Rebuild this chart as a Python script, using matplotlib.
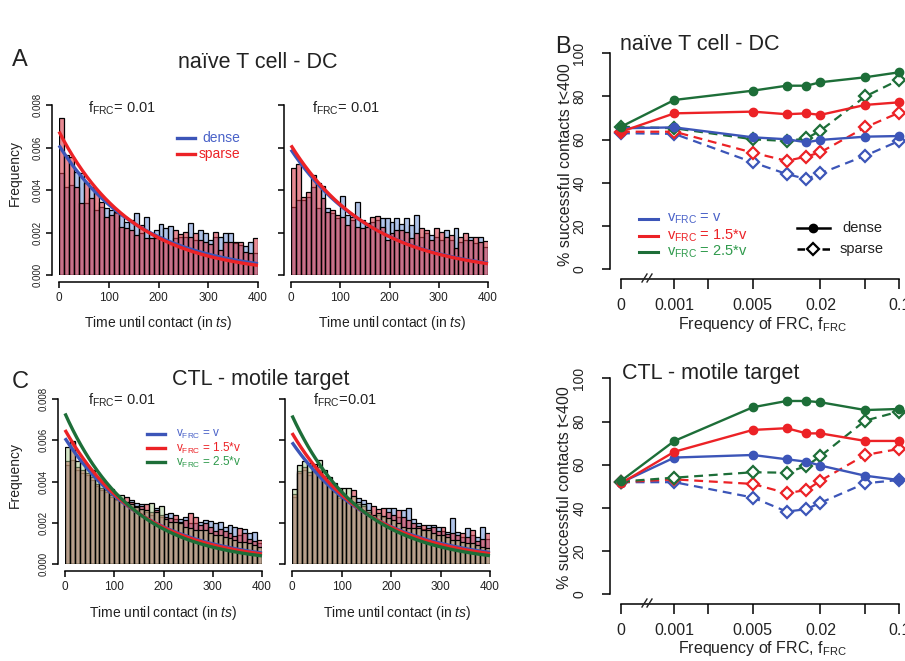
import numpy as np
import matplotlib
matplotlib.use('Agg')
import matplotlib.pyplot as plt
from matplotlib.lines import Line2D
from matplotlib.colors import to_rgba

plt.rcParams['font.family'] = ['Liberation Sans', 'DejaVu Sans']
plt.rcParams['mathtext.fontset'] = 'custom'
plt.rcParams['mathtext.rm'] = 'Liberation Sans'
plt.rcParams['mathtext.it'] = 'Liberation Sans:italic'
plt.rcParams['axes.linewidth'] = 1.1

# ---------------- data ----------------
bin_left = np.arange(0, 400, 10)

# A: naive T cell - DC, two repeats (left / right)
a1_dense = [.00478,.00416,.00424,.00486,.00482,.00340,.00416,.00306,.00322,.00314,.00306,.00290,.00282,.00251,.00259,.00293,.00196,.00275,.00196,.00212,
            .00240,.00220,.00231,.00173,.00180,.00180,.00243,.00165,.00212,.00196,.00165,.00180,.00180,.00196,.00196,.00149,.00141,.00138,.00157,.00102]
a1_sparse = [.00737,.00565,.00557,.00416,.00340,.00431,.00361,.00392,.00345,.00275,.00282,.00298,.00227,.00220,.00212,.00188,.00235,.00173,.00173,.00173,
             .00180,.00165,.00157,.00212,.00193,.00204,.00180,.00196,.00165,.00157,.00146,.00204,.00118,.00157,.00154,.00157,.00154,.00110,.00102,.00173]
a2_dense = [.00322,.00353,.00353,.00369,.00416,.00314,.00419,.00314,.00290,.00267,.00372,.00282,.00259,.00345,.00259,.00246,.00251,.00259,.00267,.00267,
            .00251,.00267,.00240,.00267,.00235,.00282,.00180,.00196,.00188,.00180,.00165,.00212,.00165,.00220,.00157,.00165,.00180,.00149,.00180,.00133]
a2_sparse = [.00502,.00522,.00369,.00392,.00471,.00435,.00361,.00298,.00306,.00282,.00275,.00235,.00275,.00227,.00220,.00227,.00275,.00278,.00227,.00165,
             .00196,.00212,.00212,.00204,.00173,.00196,.00220,.00212,.00165,.00220,.00204,.00180,.00188,.00125,.00180,.00200,.00165,.00180,.00157,.00161]
a1_rate = {'dense': 0.0061, 'sparse': 0.00675}
a2_rate = {'dense': 0.0059, 'sparse': 0.0061}

# C: CTL - motile target (v, 1.5v, 2.5v)
c1_v = [.00481,.00505,.00457,.00440,.00432,.00408,.00376,.00360,.00351,.00327,.00311,.00303,.00295,.00311,.00295,.00291,.00254,.00238,.00270,.00230,
        .00243,.00249,.00220,.00217,.00230,.00200,.00200,.00206,.00214,.00209,.00198,.00206,.00181,.00189,.00181,.00140,.00168,.00149,.00157,.00100]
c1_v15 = [.00500,.00590,.00470,.00455,.00440,.00420,.00390,.00370,.00360,.00335,.00315,.00310,.00327,.00300,.00282,.00280,.00291,.00250,.00262,.00240,
          .00230,.00225,.00238,.00205,.00215,.00246,.00230,.00190,.00200,.00180,.00160,.00170,.00160,.00150,.00135,.00173,.00150,.00120,.00110,.00117]
c1_v25 = [.00567,.00598,.00497,.00489,.00470,.00457,.00424,.00400,.00384,.00363,.00335,.00335,.00300,.00290,.00275,.00265,.00262,.00295,.00250,.00282,
          .00217,.00206,.00206,.00198,.00181,.00173,.00165,.00165,.00165,.00149,.00141,.00141,.00133,.00125,.00117,.00109,.00109,.00100,.00092,.00084]
c2_v = [.00327,.00440,.00457,.00432,.00449,.00457,.00416,.00384,.00351,.00319,.00311,.00303,.00303,.00319,.00311,.00295,.00230,.00238,.00230,.00270,
        .00270,.00230,.00262,.00270,.00217,.00198,.00170,.00189,.00189,.00181,.00160,.00157,.00222,.00157,.00130,.00173,.00140,.00133,.00181,.00120]
c2_v15 = [.00340,.00450,.00470,.00445,.00460,.00470,.00425,.00395,.00360,.00330,.00330,.00320,.00360,.00290,.00280,.00250,.00279,.00266,.00270,.00250,
          .00240,.00262,.00230,.00215,.00200,.00185,.00189,.00175,.00180,.00160,.00181,.00145,.00150,.00140,.00149,.00130,.00165,.00110,.00120,.00149]
c2_v25 = [.00363,.00481,.00497,.00489,.00486,.00505,.00457,.00424,.00392,.00368,.00368,.00368,.00330,.00300,.00290,.00260,.00240,.00245,.00235,.00222,
          .00214,.00198,.00181,.00173,.00173,.00173,.00165,.00165,.00149,.00141,.00141,.00133,.00117,.00117,.00109,.00100,.00104,.00092,.00084,.00076]
c1_rate = [0.0061, 0.0065, 0.0073]
c2_rate = [0.0059, 0.00635, 0.0072]

# B: % successful contacts vs f_FRC
f_frc = [0, 0.001, 0.005, 0.01, 0.015, 0.02, 0.05, 0.1]
f_ticks = [0, 0.001, 0.002, 0.005, 0.02, 0.05, 0.1]
f_ticklabels = ['0', '0.001', '', '0.005', '0.02', '', '0.1']
b1_dense = {'v':   [65.3, 65.7, 61.1, 60.2, 58.8, 59.9, 61.4, 61.7],
            '1.5v': [63.7, 72.2, 73.0, 71.8, 72.2, 71.5, 76.1, 77.3],
            '2.5v': [66.0, 78.4, 82.7, 85.0, 85.0, 86.6, 88.9, 91.2]}
b1_sparse = {'v':   [63.0, 62.7, 49.5, 44.1, 41.8, 44.4, 52.6, 59.4],
             '1.5v': [63.7, 63.7, 54.0, 50.2, 52.2, 54.2, 65.7, 72.5],
             '2.5v': [66.0, 65.3, 60.2, 59.4, 60.6, 64.2, 80.0, 87.7]}
b2_dense = {'v':   [51.7, 63.3, 64.5, 62.5, 61.4, 59.6, 54.9, 52.9],
            '1.5v': [51.4, 66.0, 76.1, 76.9, 74.5, 74.5, 71.0, 71.0],
            '2.5v': [52.5, 71.0, 86.6, 89.5, 89.5, 88.9, 85.3, 85.8]}
b2_sparse = {'v':   [51.9, 51.9, 44.8, 38.3, 39.4, 42.4, 51.4, 52.9],
             '1.5v': [51.9, 53.2, 51.1, 46.8, 48.3, 52.6, 64.5, 67.3],
             '2.5v': [52.2, 54.0, 56.5, 56.3, 59.4, 64.0, 80.4, 84.6]}

# ---------------- style ----------------
line_col = {'v': '#3c55b8', '1.5v': '#ec2226', '2.5v': '#1d6e38'}
text_col = {'v': '#4a62c8', '1.5v': '#ec2226', '2.5v': '#2f9a4c'}
bar_face = {'v': to_rgba('#6f92d6', 0.55), '1.5v': to_rgba('#d73c4b', 0.6), '2.5v': to_rgba('#aaca8e', 0.5)}

W, H = 905, 661
fig = plt.figure(figsize=(W / 100, H / 100), dpi=100)


def px_axes(l, t, r, b):
    return fig.add_axes([l / W, 1 - b / H, (r - l) / W, (b - t) / H])


def ftext(x, y, s, **kw):
    return fig.text(x / W, 1 - y / H, s, **kw)


def fline(x0, x1, y, **kw):
    fig.add_artist(Line2D([x0 / W, x1 / W], [1 - y / H, 1 - y / H], transform=fig.transFigure, **kw))


def hist_axes(ax, ylabels=True):
    ax.set_xlim(0, 400)
    ax.set_ylim(0, 0.008)
    for s in ['top', 'right']:
        ax.spines[s].set_visible(False)
    ax.spines['left'].set_position(('outward', 5))
    ax.spines['bottom'].set_position(('outward', 5))
    ax.spines['left'].set_bounds(0, 0.008)
    ax.spines['bottom'].set_bounds(0, 400)
    ax.set_xticks([0, 100, 200, 300, 400])
    ax.set_yticks([0, 0.002, 0.004, 0.006, 0.008])
    ax.set_xticklabels(['0', '100', '200', '300', '400'], fontsize=8.5, color='#222222')
    if ylabels:
        ax.set_yticklabels(['0.000', '0.002', '0.004', '0.006', '0.008'], fontsize=7, color='#222222',
                           rotation=90, va='center')
    else:
        ax.set_yticklabels([])
    ax.tick_params(length=4, width=1.1, pad=3)
    ax.patch.set_alpha(0)


def draw_hist(ax, series, keys, rates):
    t = np.linspace(0, 400, 300)
    for vals, k in zip(series, keys):
        ax.bar(bin_left, vals, width=10, align='edge', facecolor=bar_face[k], edgecolor='black', linewidth=0.9)
    for r, k in zip(rates, keys):
        ax.plot(t, r * np.exp(-r * t), color=line_col[k], lw=2.4, clip_on=False,
                solid_capstyle='butt')


# ---- panel A ----
axA1 = px_axes(59, 105, 258, 275)
draw_hist(axA1, [a1_dense, a1_sparse], ['v', '1.5v'], [a1_rate['dense'], a1_rate['sparse']])
hist_axes(axA1)
axA2 = px_axes(291, 105, 488, 275)
draw_hist(axA2, [a2_dense, a2_sparse], ['v', '1.5v'], [a2_rate['dense'], a2_rate['sparse']])
hist_axes(axA2, ylabels=False)

# ---- panel C ----
axC1 = px_axes(65, 399, 262, 564)
draw_hist(axC1, [c1_v, c1_v15, c1_v25], ['v', '1.5v', '2.5v'], c1_rate)
hist_axes(axC1)
axC2 = px_axes(292, 399, 490, 564)
draw_hist(axC2, [c2_v, c2_v15, c2_v25], ['v', '1.5v', '2.5v'], c2_rate)
hist_axes(axC2, ylabels=False)

# hist texts
for (x, y, s) in [(88, 108, r'f$_{\mathrm{FRC}}$= 0.01'), (312, 108, r'f$_{\mathrm{FRC}}$= 0.01'),
                  (88, 400, r'f$_{\mathrm{FRC}}$= 0.01'), (313, 400, r'f$_{\mathrm{FRC}}$=0.01')]:
    ftext(x, y, s, fontsize=10.5, ha='left', va='center', color='#222222')
xl = r'Time until contact (in $\mathit{ts}$)'
for (x, y) in [(158, 323), (392, 323), (163, 613), (397, 613)]:
    ftext(x, y, xl, fontsize=10, ha='center', va='center', color='#222222')
for (x, y) in [(15, 173), (15, 475)]:
    ftext(x, y, 'Frequency', fontsize=10, rotation=90, ha='center', va='center', color='#222222')

ftext(258, 62, 'naïve T cell - DC', fontsize=15.5, ha='center', va='center', color='#222222')
ftext(261, 379, 'CTL - motile target', fontsize=15.5, ha='center', va='center', color='#222222')

# legend A
fline(177, 195, 138, color=line_col['v'], lw=2.4)
fline(177, 195, 154, color=line_col['1.5v'], lw=2.4)
ftext(202, 138, 'dense', fontsize=10, color=text_col['v'], va='center')
ftext(199, 154, 'sparse', fontsize=10, color=text_col['1.5v'], va='center')

# legend C
leg_labels = {'v': r'v$_{\mathrm{FRC}}$ = v', '1.5v': r'v$_{\mathrm{FRC}}$ = 1.5*v', '2.5v': r'v$_{\mathrm{FRC}}$ = 2.5*v'}
for k, y in zip(['v', '1.5v', '2.5v'], [434, 448, 462]):
    fline(147, 165, y, color=line_col[k], lw=2.4)
    ftext(176, y, leg_labels[k], fontsize=8.5, color=text_col[k], va='center')

# ---- panel B ----
zero_pos = -3.475


def fpos(vals):
    return [np.log10(v) if v > 0 else zero_pos for v in vals]


def b_axes(ax, title, tx, ty):
    ax.set_xlim(zero_pos, -1)
    ax.set_ylim(0, 100)
    for s in ['top', 'right']:
        ax.spines[s].set_visible(False)
    ax.spines['left'].set_position(('outward', 8))
    ax.spines['bottom'].set_position(('outward', 7))
    ax.spines['left'].set_bounds(0, 100)
    ax.spines['bottom'].set_bounds(zero_pos, -1)
    ax.set_xticks(fpos(f_ticks))
    ax.set_xticklabels(f_ticklabels, fontsize=11.5, color='#222222')
    ax.set_yticks([0, 20, 40, 60, 80, 100])
    ax.set_yticklabels(['0', '20', '40', '60', '80', '100'], fontsize=10, rotation=90, va='center', color='#222222')
    ax.tick_params(axis='x', length=7, width=1.1, pad=7)
    ax.tick_params(axis='y', length=6, width=1.1, pad=11)
    ax.patch.set_alpha(0)
    ftext(tx, ty, title, fontsize=15.5, ha='left', va='center', color='#222222')


def draw_b(ax, dense, sparse):
    xs = fpos(f_frc)
    for k in ['v', '1.5v', '2.5v']:
        ax.plot(xs, sparse[k], linestyle=(0, (4, 2.6)), color=line_col[k], lw=1.6, marker='D', ms=6.5,
                mfc='white', mec=line_col[k], mew=1.6, clip_on=False, zorder=3)
    for k in ['v', '1.5v', '2.5v']:
        ax.plot(xs, dense[k], '-', color=line_col[k], lw=1.7, marker='o', ms=6,
                clip_on=False, zorder=4)


axB1 = px_axes(621, 53.3, 899, 269.3)
draw_b(axB1, b1_dense, b1_sparse)
b_axes(axB1, 'naïve T cell - DC', 620, 45)
axB2 = px_axes(621, 378.3, 899, 594.3)
draw_b(axB2, b2_dense, b2_sparse)
b_axes(axB2, 'CTL - motile target', 622, 373)

# axis-break marks
for yb in [278, 603]:
    for dx in [0, 5]:
        x0 = 642 + dx
        fig.add_artist(Line2D([x0 / W, (x0 + 5) / W], [1 - (yb + 4) / H, 1 - (yb - 4) / H],
                              transform=fig.transFigure, color='#222222', lw=1.0))

for (x, y) in [(566, 165), (564, 488)]:
    ftext(x, y, '% successful contacts t<400', fontsize=11.5, rotation=90, ha='center', va='center', color='#222222')
for (x, y) in [(762, 325), (762, 648)]:
    ftext(x, y, r'Frequency of FRC, f$_{\mathrm{FRC}}$', fontsize=11.5, ha='center', va='center', color='#222222')

# legend B
for k, y in zip(['v', '1.5v', '2.5v'], [219, 236, 252]):
    fline(639, 658, y, color=line_col[k], lw=2.2)
    ftext(667, y, leg_labels[k], fontsize=10.5, color=text_col[k], va='center')
fig.add_artist(Line2D([797 / W, 813 / W, 830 / W], [1 - 228 / H] * 3, transform=fig.transFigure,
                      color='black', lw=1.8, marker='o', ms=6, markevery=[1]))
fig.add_artist(Line2D([797 / W, 813 / W, 830 / W], [1 - 249 / H] * 3, transform=fig.transFigure,
                      color='black', lw=1.8, linestyle=(0, (3, 2)), marker='D', ms=6.5, mfc='white', mew=1.6,
                      markevery=[1]))
ftext(842, 228, 'dense', fontsize=10.5, va='center', color='#222222')
ftext(840, 249, 'sparse', fontsize=10.5, va='center', color='#222222')

# panel letters
ftext(20, 60, 'A', fontsize=17, ha='center', va='center', color='#222222')
ftext(563, 47, 'B', fontsize=17, ha='center', va='center', color='#222222')
ftext(20, 382, 'C', fontsize=17, ha='center', va='center', color='#222222')

fig.savefig('out.png', dpi=100, facecolor='white')
